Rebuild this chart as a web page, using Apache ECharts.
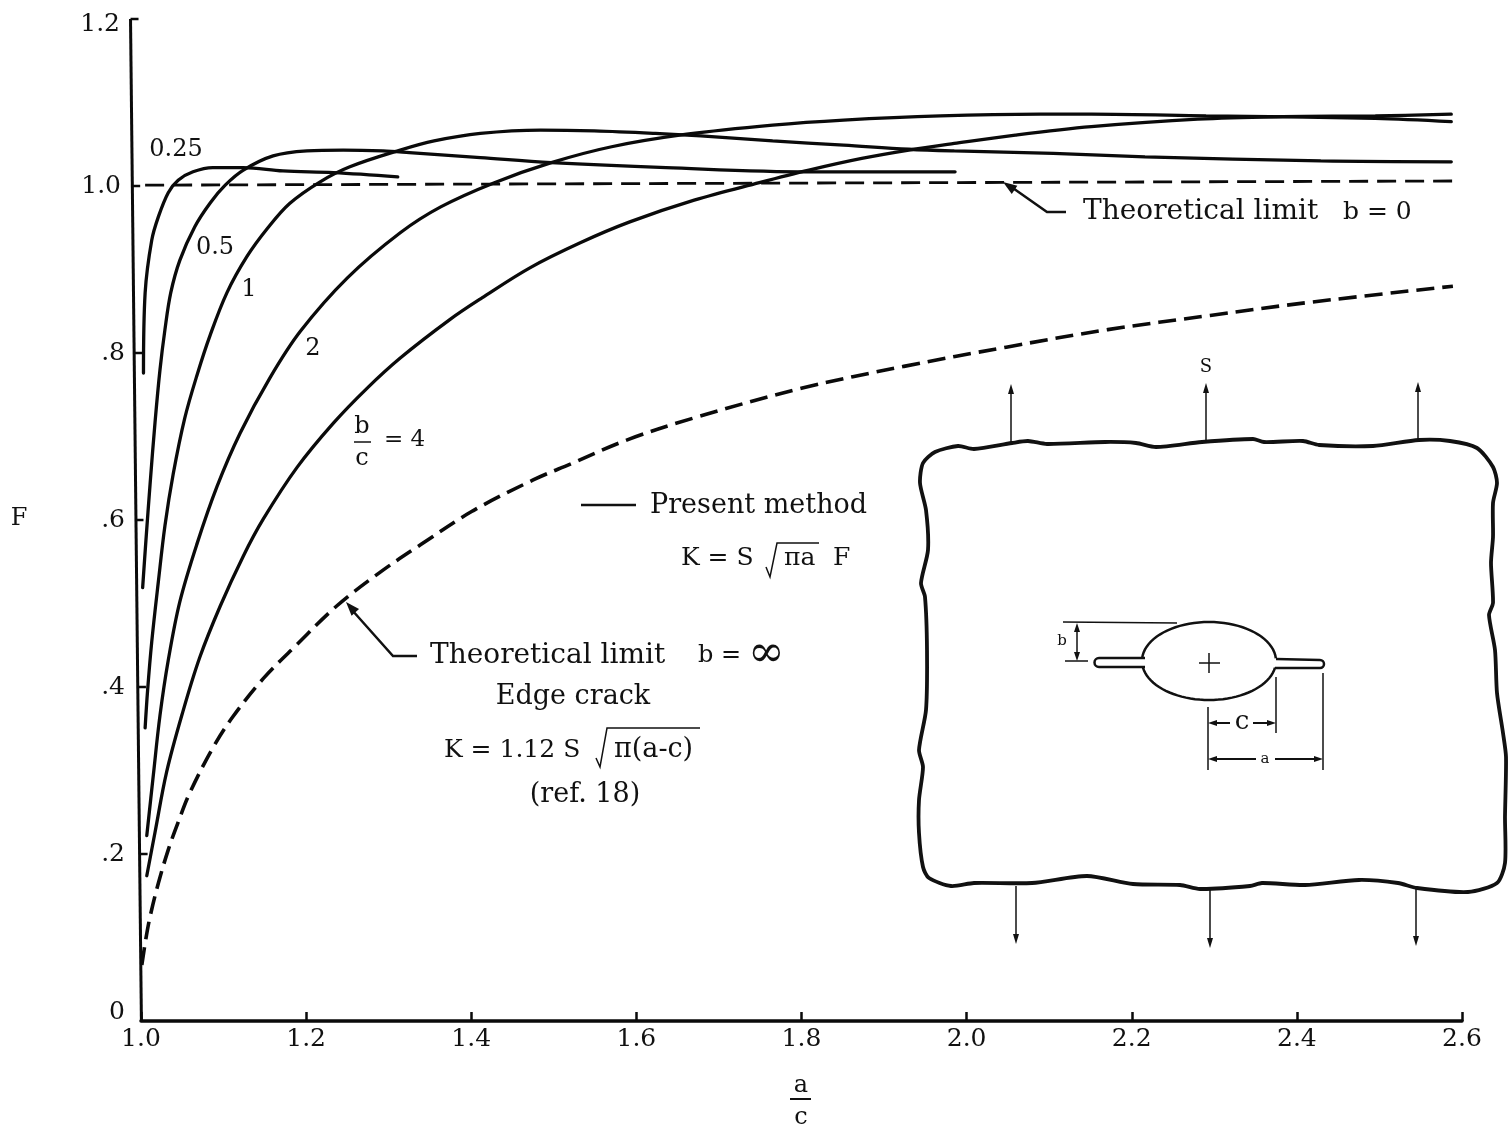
<!DOCTYPE html>
<html>
<head>
<meta charset="utf-8">
<title>F versus a/c</title>
<style>html,body{margin:0;padding:0;background:#fff}#main{width:1508px;height:1127px}</style>
<script src="https://cdn.jsdelivr.net/npm/echarts@6/dist/echarts.min.js"></script>
</head>
<body>
<div id="main"></div>
<script>
const xTicks = [1.0, 1.2, 1.4, 1.6, 1.8, 2.0, 2.2, 2.4, 2.6];
const yTickLabels = {0: '0', 0.2: '.2', 0.4: '.4', 0.6: '.6', 0.8: '.8', 1: '1.0', 1.2: '1.2'};

// [a/c, F]
const ratio025 = [[1.003,.776],[1.005,.872],[1.013,.935],[1.021,.963],[1.033,.992],[1.045,1.007],[1.063,1.017],[1.087,1.022],[1.124,1.022],[1.172,1.018],[1.233,1.016],[1.311,1.011]];
const ratio05 = [[1.002,.519],[1.006,.576],[1.011,.643],[1.017,.717],[1.023,.780],[1.029,.828],[1.036,.872],[1.047,.911],[1.065,.951],[1.084,.980],[1.102,1.001],[1.124,1.019],[1.160,1.036],[1.201,1.042],[1.245,1.043],[1.293,1.042],[1.325,1.040],[1.411,1.034],[1.497,1.028],[1.636,1.022],[1.809,1.017],[1.986,1.017]];
const ratio1 = [[1.005,.351],[1.008,.396],[1.013,.454],[1.021,.526],[1.029,.593],[1.039,.655],[1.053,.722],[1.068,.774],[1.084,.822],[1.104,.872],[1.128,.915],[1.153,.949],[1.180,.979],[1.217,1.005],[1.253,1.023],[1.314,1.043],[1.355,1.054],[1.411,1.063],[1.484,1.067],[1.549,1.066],[1.623,1.063],[1.678,1.060],[1.765,1.054],[1.851,1.049],[1.930,1.044],[1.985,1.042],[2.105,1.039],[2.216,1.035],[2.429,1.030],[2.587,1.029]];
const ratio2 = [[1.007,.222],[1.015,.295],[1.023,.366],[1.033,.432],[1.047,.502],[1.068,.572],[1.092,.640],[1.120,.704],[1.156,.770],[1.193,.826],[1.250,.890],[1.314,.944],[1.363,.975],[1.428,1.004],[1.497,1.028],[1.570,1.047],[1.661,1.062],[1.765,1.073],[1.851,1.079],[1.968,1.084],[2.089,1.086],[2.151,1.086],[2.290,1.084],[2.495,1.081],[2.587,1.077]];
const ratio4 = [[1.007,.174],[1.017,.226],[1.031,.298],[1.050,.368],[1.071,.435],[1.096,.497],[1.124,.557],[1.148,.601],[1.189,.663],[1.233,.716],[1.274,.758],[1.314,.794],[1.374,.840],[1.413,.866],[1.471,.902],[1.532,.932],[1.592,.957],[1.670,.983],[1.749,1.004],[1.809,1.019],[1.873,1.033],[1.930,1.043],[1.985,1.051],[2.059,1.061],[2.151,1.071],[2.280,1.080],[2.383,1.083],[2.495,1.084],[2.587,1.086]];
const limitInfinity = [[1.001,.067],[1.006,.099],[1.011,.125],[1.021,.165],[1.033,.205],[1.045,.238],[1.059,.273],[1.087,.327],[1.111,.364],[1.148,.410],[1.189,.451],[1.237,.497],[1.289,.537],[1.338,.570],[1.402,.611],[1.475,.648],[1.520,.667],[1.589,.696],[1.669,.722],[1.801,.758],[1.924,.784],[2.048,.807],[2.171,.828],[2.295,.845],[2.418,.861],[2.589,.880]];
const limitZero = [[1.005,1.001],[2.589,1.006]];

// the scanned vertical axis leans: [a/c at bottom, F, a/c at top, F]
const leaningAxis = [[1.0005,0,.9873,1.2]];
// ticks: [a/c at axis, F, a/c at tick end]
const yTicks = [[.9873,1.2,.997],[.9898,1.0,.999],[.9917,.8,1.002],[.9945,.6,1.003],[.997,.4,1.006],[.9985,.2,1.008]];

const SERIF = '"DejaVu Serif","Liberation Serif",serif';
const T = (text, x, y, size, align) => ({
  type: 'text', silent: true, z: 20,
  style: {text, x, y, font: (size || 27) + 'px ' + SERIF, fill: '#111', textAlign: align || 'left', textVerticalAlign: 'middle'}
});
const L = (points, w) => ({
  type: 'polyline', silent: true, z: 19,
  shape: {points}, style: {stroke: '#111', lineWidth: w || 2, fill: null}
});
const H = (tip, dx, dy, len, half) => { // arrow head, tip + direction
  const n = Math.hypot(dx, dy); const ux = dx / n, uy = dy / n;
  const bx = tip[0] - ux * len, by = tip[1] - uy * len;
  return {type: 'polygon', silent: true, z: 19,
    shape: {points: [tip, [bx - uy * half, by + ux * half], [bx + uy * half, by - ux * half]]},
    style: {fill: '#111'}};
};
const arc = (cx, cy, rx, ry, a0, a1) => {
  const p = [];
  for (let i = 0; i <= 40; i++) {
    const a = a0 + (a1 - a0) * i / 40;
    p.push([cx + rx * Math.cos(a), cy + ry * Math.sin(a)]);
  }
  return p;
};

const outline = [[923,463],[935,452],[958,446],[974,449],[1012,443],[1028,441],[1047,444],[1105,442],[1136,443],[1156,447],[1202,442],[1253,439],[1264,442],[1303,441],[1319,445],[1373,446],[1419,440],[1450,441],[1477,448],[1493,467],[1497,483],[1493,503],[1493,537],[1491,563],[1493,603],[1489,615],[1495,650],[1497,693],[1503,733],[1506,757],[1505,817],[1505,863],[1497,883],[1468,892],[1417,888],[1398,883],[1359,880],[1305,885],[1262,883],[1250,886],[1200,889],[1180,885],[1133,884],[1087,876],[1032,883],[974,883],[951,886],[929,878],[923,867],[919,833],[919,800],[923,767],[919,750],[926,710],[927,650],[925,597],[921,583],[928,550],[926,510],[920,483]];

const graphics = [
  T('F', 19, 519, 24, 'center'),
  T('0.25', 176, 150, 24, 'center'),
  T('0.5', 215, 248, 24, 'center'),
  T('1', 249, 290, 24, 'center'),
  T('2', 313, 349, 24, 'center'),
  T('b', 362, 427, 24, 'center'), L([[354,442],[371,442]], 1.5), T('c', 362, 459, 24, 'center'),
  T('= 4', 384, 440, 23),
  L([[581,505],[636,505]], 2.5), T('Present method', 650, 506, 27),
  T('K = S', 681, 558, 25), T('πa', 784, 558, 25), T('F', 833, 558, 25),
  L([[766,567],[770,577],[777,543],[819,543]], 1.5),
  T('Theoretical limit', 430, 656, 28), T('b =', 698, 656, 24), T('∞', 748, 655, 44),
  T('Edge crack', 573, 697, 27, 'center'),
  T('K = 1.12 S', 444, 750, 25), T('π(a-c)', 614, 750, 27),
  L([[596,758],[600,767],[607,728],[700,728]], 1.5),
  T('(ref. 18)', 585, 795, 27, 'center'),
  T('Theoretical limit', 1083, 212, 28), T('b = 0', 1343, 212, 25),
  L([[1066,212],[1047,212],[1010,186]], 2.5), H([1003,182], -44, -30, 14, 5),
  L([[417,656],[393,656],[352,610]], 2.5), H([346,602], -41, -46, 14, 5),
  T('a', 801, 1086, 24, 'center'), L([[790,1099],[811,1099]], 2), T('c', 801, 1118, 24, 'center'),

  {type: 'polygon', silent: true, z: 18, shape: {points: outline, smooth: 0.25},
    style: {fill: null, stroke: '#111', lineWidth: 3.8}},
  T('S', 1206, 367, 18, 'center'),
  L([[1011,442],[1011,392]], 1.5), H([1011,384], 0, -1, 10, 3),
  L([[1206,442],[1206,391]], 1.5), H([1206,383], 0, -1, 10, 3),
  L([[1418,440],[1418,390]], 1.5), H([1418,382], 0, -1, 10, 3),
  L([[1016,886],[1016,936]], 1.5), H([1016,944], 0, 1, 10, 3),
  L([[1210,890],[1210,940]], 1.5), H([1210,948], 0, 1, 10, 3),
  L([[1416,889],[1416,938]], 1.5), H([1416,946], 0, 1, 10, 3),

  L(arc(1209,661,67,39, Math.PI + 0.07, 2 * Math.PI - 0.07), 2.5),
  L(arc(1209,661,67,39, 0.17, Math.PI - 0.17), 2.5),
  L([[1145,658],[1099,658]], 2.5), L([[1145,667],[1099,667]], 2.5),
  {type: 'arc', silent: true, z: 19, shape: {cx: 1099, cy: 662.5, r: 4.5, startAngle: Math.PI / 2, endAngle: Math.PI * 1.5, clockwise: true}, style: {stroke: '#111', lineWidth: 2.5, fill: null}},
  L([[1276,659],[1320,660]], 2.5), L([[1275,668],[1320,668]], 2.5),
  {type: 'arc', silent: true, z: 19, shape: {cx: 1320, cy: 664, r: 4, startAngle: -Math.PI / 2, endAngle: Math.PI / 2, clockwise: true}, style: {stroke: '#111', lineWidth: 2.5, fill: null}},
  L([[1199,663],[1220,663]], 1.5), L([[1209,653],[1209,673]], 1.5),
  L([[1063,622],[1177,623]], 1.5), L([[1065,661],[1088,661]], 1.5),
  L([[1077,630],[1077,654]], 1.5), H([1077,623], 0, -1, 9, 3), H([1077,661], 0, 1, 9, 3),
  T('b', 1062, 641, 15, 'center'),
  L([[1208,707],[1208,770]], 1.5), L([[1276,677],[1276,733]], 1.5), L([[1323,673],[1323,770]], 1.5),
  L([[1212,723],[1230,723]], 2), H([1208,723], -1, 0, 9, 3), T('c', 1242, 722, 26, 'center'),
  L([[1253,723],[1270,723]], 2), H([1276,723], 1, 0, 9, 3),
  L([[1212,759],[1256,759]], 2), H([1208,759], -1, 0, 9, 3), T('a', 1265, 759, 15, 'center'),
  L([[1275,759],[1318,759]], 2), H([1323,759], 1, 0, 9, 3)
];

const curve = (name, data, width) => ({
  name, type: 'line', data, smooth: 0.35, showSymbol: false, symbol: 'none', clip: false,
  lineStyle: {color: '#0a0a0a', width: width || 3.3, cap: 'round'}
});

const chart = echarts.init(document.getElementById('main'), null, {renderer: 'canvas'});
chart.setOption({
  animation: false,
  backgroundColor: '#ffffff',
  textStyle: {fontFamily: SERIF},
  grid: {left: 141, right: 46, top: 19, bottom: 106, containLabel: false},
  xAxis: {
    type: 'value', min: 1.0, max: 2.6, interval: 0.2, splitLine: {show: false},
    axisLine: {lineStyle: {color: '#0a0a0a', width: 3.5}},
    axisTick: {inside: true, length: 9, lineStyle: {color: '#0a0a0a', width: 2.5}},
    axisLabel: {color: '#111', fontFamily: SERIF, fontSize: 25, margin: 6, showMinLabel: true, showMaxLabel: true,
      formatter: v => xTicks.find(t => Math.abs(t - v) < 1e-6).toFixed(1)}
  },
  yAxis: {
    type: 'value', min: 0, max: 1.2, interval: 0.2, splitLine: {show: false},
    axisLine: {show: false}, axisTick: {show: false},
    axisLabel: {color: '#111', fontFamily: SERIF, fontSize: 25, margin: 16, showMinLabel: true, showMaxLabel: true,
      formatter: v => {
        const s = yTickLabels[Math.round(v * 10) / 10];
        return s === '0' ? '{zero|0}' : s === '1.2' ? '{top|1.2}' : s === '1.0' ? '{one|1.0}' : s;
      },
      rich: {
        zero: {fontFamily: SERIF, fontSize: 25, color: '#111', padding: [0, 0, 18, 0]},
        top: {fontFamily: SERIF, fontSize: 25, color: '#111', padding: [10, 5, 0, 0]},
        one: {fontFamily: SERIF, fontSize: 25, color: '#111', padding: [0, 4, 0, 0]}
      }
    }
  },
  series: [
    {name: 'axis', type: 'custom', data: leaningAxis, clip: false, silent: true,
      renderItem: (params, api) => {
        const a = api.coord([api.value(0), api.value(1)]);
        const b = api.coord([api.value(2), api.value(3)]);
        return {type: 'line', shape: {x1: a[0], y1: a[1], x2: b[0], y2: b[1]},
          style: {stroke: '#0a0a0a', lineWidth: 3}};
      }},
    {name: 'ticks', type: 'custom', data: yTicks, clip: false, silent: true,
      renderItem: (params, api) => {
        const a = api.coord([api.value(0), api.value(1)]);
        const b = api.coord([api.value(2), api.value(1)]);
        return {type: 'line', shape: {x1: a[0], y1: a[1], x2: b[0], y2: b[1]},
          style: {stroke: '#0a0a0a', lineWidth: 2.5}};
      }},
    curve('b/c = 0.25', ratio025),
    curve('b/c = 0.5', ratio05),
    curve('b/c = 1', ratio1),
    curve('b/c = 2', ratio2),
    curve('b/c = 4', ratio4),
    {name: 'Theoretical limit b = 0', type: 'line', data: limitZero, showSymbol: false, symbol: 'none', clip: false,
      lineStyle: {color: '#0a0a0a', width: 2.8, type: [19, 9]}},
    {name: 'Theoretical limit b = ∞', type: 'line', data: limitInfinity, smooth: 0.35, showSymbol: false, symbol: 'none', clip: false,
      lineStyle: {color: '#0a0a0a', width: 3.6, type: [18, 8]}}
  ],
  graphic: {elements: graphics}
});
</script>
</body>
</html>
